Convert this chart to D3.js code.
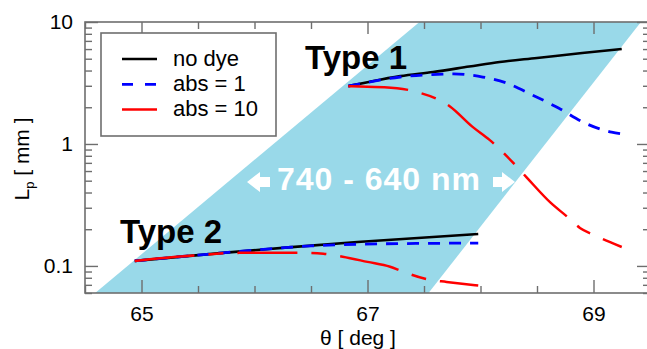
<!DOCTYPE html>
<html>
<head>
<meta charset="utf-8">
<script src="https://cdn.jsdelivr.net/npm/d3@7"></script>
<style>
  html, body { margin: 0; padding: 0; background: #fff; }
  svg { display: block; font-family: "Liberation Sans", Arial, sans-serif; }
</style>
</head>
<body>
<svg id="chart" width="647" height="349"></svg>
<script>
// ---------- data ----------
const xDomain = [64.5, 69.5];
const yDomain = [0.06, 10];
const xMajorTicks = [65, 67, 69];
const xMinorTicks = [64.5, 65.5, 66, 66.5, 67.5, 68, 68.5, 69.5];
const yMajorTicks = [0.1, 1, 10];
const yTickLabels = ["0.1", "1", "10"];
const yMinorTicks = [0.06, 0.07, 0.08, 0.09, 0.2, 0.3, 0.4, 0.5, 0.6, 0.7, 0.8, 0.9,
                     2, 3, 4, 5, 6, 7, 8, 9];

// wavelength band (740 - 640 nm) corners
const bandX = [64.59, 67.46, 69.42, 67.54];
const bandY = [0.06, 10, 10, 0.06];

// Type 1
const t1NoDyeX = [66.83, 67.0, 67.29, 67.58, 67.9, 68.17, 68.5, 68.9, 69.25];
const t1NoDyeY = [2.98, 3.21, 3.6, 3.89, 4.31, 4.70, 5.07, 5.57, 6.01];
const t1Abs1X = [66.83, 67.0, 67.29, 67.55, 67.76, 68.02, 68.23, 68.46, 68.69, 68.92, 69.16, 69.25];
const t1Abs1Y = [2.98, 3.2, 3.54, 3.7, 3.75, 3.54, 3.16, 2.52, 1.97, 1.49, 1.25, 1.21];
const t1Abs10X = [66.83, 67.0, 67.15, 67.4, 67.73, 67.93, 68.08, 68.29, 68.41, 68.62, 68.77, 68.88, 69.0, 69.25];
const t1Abs10Y = [2.98, 2.94, 2.92, 2.72, 2.03, 1.38, 1.08, 0.70, 0.53, 0.33, 0.252, 0.205, 0.180, 0.143];

// Type 2
const t2NoDyeX = [64.94, 65.72, 66.3, 66.91, 67.98];
const t2NoDyeY = [0.110, 0.128, 0.142, 0.157, 0.183];
const t2Abs1X = [64.94, 65.72, 66.3, 66.5, 66.96, 67.49, 67.98];
const t2Abs1Y = [0.110, 0.128, 0.142, 0.146, 0.151, 0.153, 0.154];
const t2Abs10X = [64.94, 65.43, 65.87, 66.43, 66.61, 66.78, 67.0, 67.2, 67.31, 67.55, 67.7, 67.98];
const t2Abs10Y = [0.110, 0.121, 0.128, 0.128, 0.126, 0.119, 0.108, 0.0986, 0.090, 0.077, 0.074, 0.069];

const legendLabels = ["no dye", "abs = 1", "abs = 10"];

// ---------- layout ----------
const svg = d3.select("#chart");
const L = 85, R = 650, T = 22, B = 293;
const x = d3.scaleLinear().domain(xDomain).range([L, R]);
const y = d3.scaleLog().domain(yDomain).range([B, T]);

const styles = {
  noDye: { color: "#000000", width: 2.6, dash: null },
  abs1:  { color: "#0000ff", width: 2.8, dash: "12,9" },
  abs10: { color: "#ff0000", width: 2.5, dash: "60,14,15,14" }
};

svg.append("clipPath").attr("id", "plotclip")
  .append("rect").attr("x", L).attr("y", T).attr("width", R - L).attr("height", B - T);

const plot = svg.append("g").attr("clip-path", "url(#plotclip)");

// band
const bandPts = bandX.map((v, i) => [x(v), y(bandY[i])]);
plot.append("polygon")
  .attr("points", bandPts.map(p => p.join(",")).join(" "))
  .attr("fill", "#99d9e9");

// ---------- axes ----------
const axisColor = "#6e6e6e";
function styleAxis(g) {
  g.select(".domain").remove();
  g.selectAll(".tick line").attr("stroke", axisColor).attr("stroke-width", 1.4);
  g.selectAll(".tick text").attr("fill", "#000");
}
// left
svg.append("g").attr("transform", `translate(${L},0)`)
  .call(d3.axisLeft(y).tickValues(yMajorTicks).tickSize(-13).tickPadding(12)
        .tickFormat((d, i) => yTickLabels[i]))
  .call(styleAxis)
  .call(g => g.selectAll(".tick text").attr("font-size", 21).attr("dy", "0.3em"));
svg.append("g").attr("transform", `translate(${L},0)`)
  .call(d3.axisLeft(y).tickValues(yMinorTicks).tickSize(-7).tickFormat(""))
  .call(styleAxis);
// right
svg.append("g").attr("transform", `translate(${R},0)`)
  .call(d3.axisRight(y).tickValues(yMajorTicks).tickSize(-13).tickFormat(""))
  .call(styleAxis);
svg.append("g").attr("transform", `translate(${R},0)`)
  .call(d3.axisRight(y).tickValues(yMinorTicks).tickSize(-7).tickFormat(""))
  .call(styleAxis);
// bottom
svg.append("g").attr("transform", `translate(0,${B})`)
  .call(d3.axisBottom(x).tickValues(xMajorTicks).tickSize(-13).tickPadding(13)
        .tickFormat(d3.format("d")))
  .call(styleAxis)
  .call(g => g.selectAll(".tick text").attr("font-size", 21));
svg.append("g").attr("transform", `translate(0,${B})`)
  .call(d3.axisBottom(x).tickValues(xMinorTicks).tickSize(-7).tickFormat(""))
  .call(styleAxis);
// top
svg.append("g").attr("transform", `translate(0,${T})`)
  .call(d3.axisTop(x).tickValues(xMajorTicks).tickSize(-12).tickFormat(""))
  .call(styleAxis);
svg.append("g").attr("transform", `translate(0,${T})`)
  .call(d3.axisTop(x).tickValues(xMinorTicks).tickSize(-7).tickFormat(""))
  .call(styleAxis);

// frame
svg.append("rect").attr("x", L).attr("y", T).attr("width", R - L).attr("height", B - T)
  .attr("fill", "none").attr("stroke", axisColor).attr("stroke-width", 1.6);

// ---------- lines ----------
const line = d3.line().x(d => x(d[0])).y(d => y(d[1])).curve(d3.curveMonotoneX);
function drawSeries(xs, ys, st) {
  plot.append("path")
    .attr("d", line(xs.map((v, i) => [v, ys[i]])))
    .attr("fill", "none")
    .attr("stroke", st.color)
    .attr("stroke-width", st.width)
    .attr("stroke-dasharray", st.dash)
    .attr("stroke-linecap", "butt");
}
drawSeries(t1NoDyeX, t1NoDyeY, styles.noDye);
drawSeries(t2NoDyeX, t2NoDyeY, styles.noDye);
drawSeries(t1Abs1X, t1Abs1Y, styles.abs1);
drawSeries(t2Abs1X, t2Abs1Y, styles.abs1);
drawSeries(t1Abs10X, t1Abs10Y, styles.abs10);
drawSeries(t2Abs10X, t2Abs10Y, styles.abs10);

// ---------- annotations ----------
svg.append("text").attr("x", 305).attr("y", 69)
  .attr("font-size", 33).attr("font-weight", "bold").text("Type 1");
svg.append("text").attr("x", 120).attr("y", 243)
  .attr("font-size", 33).attr("font-weight", "bold").text("Type 2");
svg.append("text").attr("x", 379).attr("y", 190).attr("text-anchor", "middle")
  .attr("font-size", 32).attr("font-weight", "bold").attr("fill", "#fff")
  .attr("letter-spacing", 1).text("740 - 640 nm");

// arrows
const cy = 182;
svg.append("polygon").attr("fill", "#fff")
  .attr("points", [[247, cy], [260, cy - 10], [260, cy - 5], [270, cy - 5], [270, cy + 5], [260, cy + 5], [260, cy + 10]].map(p => p.join(",")).join(" "));
svg.append("polygon").attr("fill", "#fff")
  .attr("points", [[515, cy], [502, cy - 10], [502, cy - 5], [493, cy - 5], [493, cy + 5], [502, cy + 5], [502, cy + 10]].map(p => p.join(",")).join(" "));

// axis titles
svg.append("text").attr("x", 358).attr("y", 344.5).attr("text-anchor", "middle")
  .attr("font-size", 21).text("θ [ deg ]");
const yt = svg.append("text").attr("transform", "translate(29,159) rotate(-90)")
  .attr("text-anchor", "middle").attr("font-size", 21);
yt.append("tspan").text("L");
yt.append("tspan").attr("font-size", 13).attr("dy", 5).text("p");
yt.append("tspan").attr("dy", -5).text(" [ mm ]");

// ---------- legend ----------
const lg = svg.append("g");
lg.append("rect").attr("x", 101).attr("y", 33).attr("width", 175).attr("height", 103)
  .attr("fill", "#fff").attr("stroke", axisColor).attr("stroke-width", 1.6);
const legendStyles = [
  { color: "#000000", width: 2.6, dash: null },
  { color: "#0000ff", width: 2.8, dash: "11,12" },
  { color: "#ff0000", width: 2.5, dash: null }
];
legendLabels.forEach((lab, i) => {
  const yy = 59 + i * 25.3;
  lg.append("line").attr("x1", 122).attr("x2", 157).attr("y1", yy).attr("y2", yy)
    .attr("stroke", legendStyles[i].color).attr("stroke-width", legendStyles[i].width)
    .attr("stroke-dasharray", legendStyles[i].dash);
  lg.append("text").attr("x", 173).attr("y", yy + 6.5).attr("font-size", 22).text(lab);
});
</script>
</body>
</html>
